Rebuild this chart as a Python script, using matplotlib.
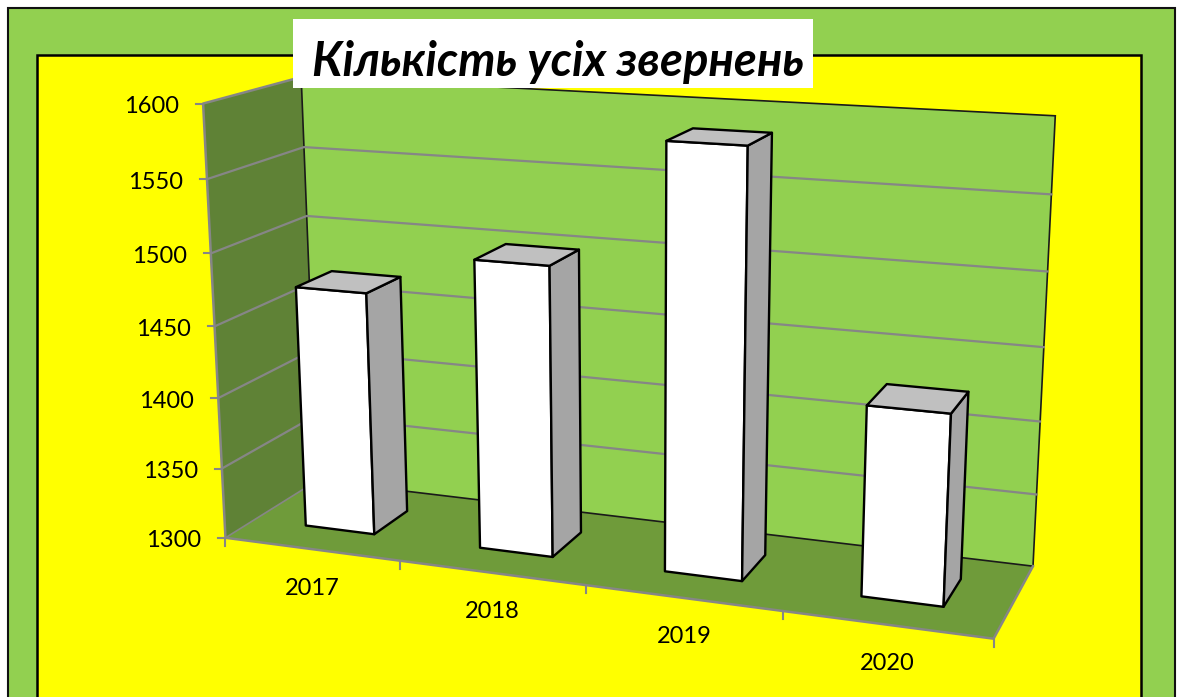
import numpy as np
import matplotlib
matplotlib.use('Agg')
import matplotlib.pyplot as plt
from matplotlib.patches import Polygon, Rectangle

years = ['2017', '2018', '2019', '2020']
counts = [1471, 1500, 1586, 1427]
value_ticks = [1300, 1350, 1400, 1450, 1500, 1550, 1600]
title = 'Кількість усіх звернень'

# chart space (category, value, depth) -> picture pixels, least squares camera
anchors = [
    (0, 1300, 0, 226, 538), (1, 1300, 0, 400, 562), (2, 1300, 0, 585.7, 585),
    (3, 1300, 0, 783, 612), (4, 1300, 0, 993, 638), (0, 1350, 0, 222, 468),
    (0, 1500, 0, 211, 253), (0, 1550, 0, 207, 179), (0, 1600, 0, 203, 103),
    (0, 1300, 1, 317, 480), (0, 1500, 1, 306.5, 216), (0, 1550, 1, 304, 147),
    (0, 1600, 1, 301, 78), (4, 1300, 1, 1034, 566), (4, 1350, 1, 1036, 494),
    (4, 1400, 1, 1040, 422), (4, 1550, 1, 1051, 193), (4, 1600, 1, 1056, 117),
]
rows, rhs = [], []
for x, v, d, u, w in anchors:
    z = (v - 1300) / 300
    rows.append([x, z, d, 1, 0, 0, 0, 0, -u * x, -u * z, -u * d])
    rhs.append(u)
    rows.append([0, 0, 0, 0, x, z, d, 1, -w * x, -w * z, -w * d])
    rhs.append(w)
cam = np.linalg.lstsq(np.array(rows, float), np.array(rhs, float), rcond=None)[0]
cam = np.append(cam, 1).reshape(3, 4)


def project(x, v, d):
    p = cam @ np.array([x, (v - 1300) / 300, d, 1])
    return p[0] / p[2], p[1] / p[2]


GREY = '#868686'
FONT = ['Lato', 'Open Sans', 'DejaVu Sans']
fig = plt.figure(figsize=(11.81, 6.97), dpi=100)
ax = fig.add_axes([0, 0, 1, 1])
ax.set_xlim(0, 1181)
ax.set_ylim(697, 0)
ax.axis('off')

ax.add_patch(Rectangle((8, 8), 1167, 720, fc='#92D050', ec='#111111', lw=1.5, zorder=0))
ax.add_patch(Rectangle((37, 55), 1104, 700, fc='#FFFF00', ec='black', lw=1.8, zorder=1))


def quad(pts, **kw):
    ax.add_patch(Polygon([project(*p) for p in pts], closed=True, **kw))


quad([(0, 1300, 0), (0, 1600, 0), (0, 1600, 1), (0, 1300, 1)], fc='#5F8236', ec='none', zorder=2)
quad([(0, 1300, 0), (4, 1300, 0), (4, 1300, 1), (0, 1300, 1)], fc='#6F9B3A', ec='none', zorder=2)
quad([(0, 1300, 1), (4, 1300, 1), (4, 1600, 1), (0, 1600, 1)], fc='#92D050', ec='#1a1a1a', lw=1.2, zorder=2)

for v in value_ticks:
    pts = [project(0, v, 0), project(0, v, 1), project(4, v, 1)]
    if 1300 < v < 1600:
        ax.plot(*zip(*pts), color=GREY, lw=1.6, zorder=3)
    u, w = pts[0]
    ax.plot([u - 7, u], [w, w], color=GREY, lw=1.5, zorder=3)
    ax.text(u - 24, w + 1, str(v), ha='right', va='center_baseline', fontsize=17,
            family=FONT, color='black', zorder=6)

# grey edges of the left wall and the floor
ax.plot(*zip(project(0, 1600, 1), project(0, 1600, 0), project(0, 1300, 0), project(4, 1300, 0), project(4, 1300, 1)),
        color=GREY, lw=1.8, zorder=3)
ax.plot(*zip(project(0, 1300, 0), project(0, 1300, 1)), color=GREY, lw=1.2, zorder=3)

for i in range(5):
    u, w = project(i, 1300, 0)
    ax.plot([u, u], [w, w + 8], color=GREY, lw=1.5, zorder=3)

for i, (name, val) in enumerate(zip(years, counts)):
    x0, x1 = i + 0.30, i + 0.70
    d0, d1 = 0.31, 0.70
    edge = dict(ec='black', lw=1.7, joinstyle='round', zorder=4)
    quad([(x0, 1300, d0), (x1, 1300, d0), (x1, val, d0), (x0, val, d0)], fc='white', **edge)
    quad([(x1, 1300, d0), (x1, 1300, d1), (x1, val, d1), (x1, val, d0)], fc='#A5A5A5', **edge)
    quad([(x0, val, d0), (x1, val, d0), (x1, val, d1), (x0, val, d1)], fc='#C0C0C0', **edge)
    u, w = project(i + 0.5, 1300, 0)
    ax.text(u + 1, w + 37, name, ha='center', va='center_baseline', fontsize=17,
            family=FONT, color='black', zorder=6)

ax.add_patch(Rectangle((293, 19), 520, 69, fc='white', ec='none', zorder=7))
ax.text(558, 58, title, ha='center', va='center_baseline', fontsize=33.8, fontweight='bold', fontstyle='italic',
        family=FONT, color='black', zorder=8)

fig.savefig('out.png', dpi=100)
